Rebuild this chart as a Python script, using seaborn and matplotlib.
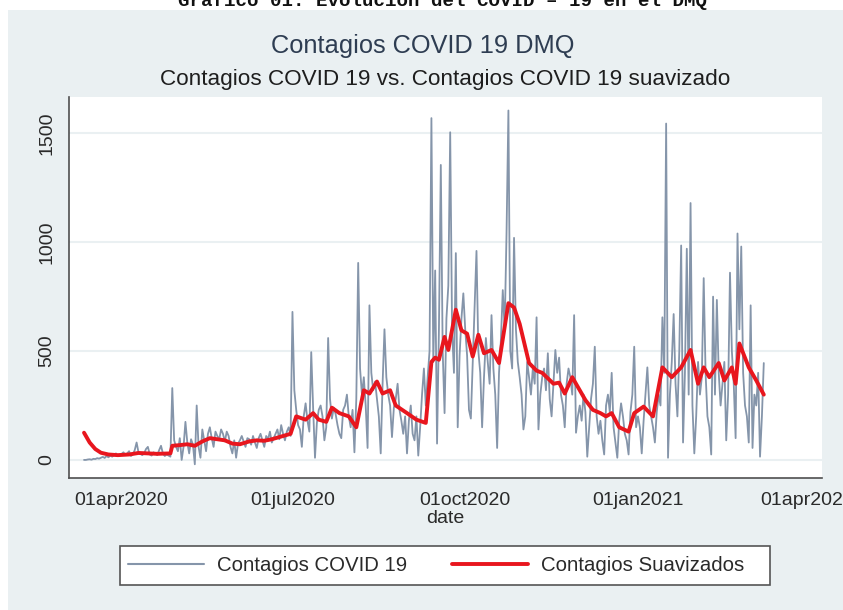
"""
Contagios COVID 19 DMQ: daily cases vs. smoothed cases (Stata-like look).
"""

import pandas as pd
import matplotlib
matplotlib.use("Agg")
import matplotlib.pyplot as plt
from matplotlib.lines import Line2D
from matplotlib.patches import Rectangle
import seaborn as sns


# daily cases, one list per month
mar20 = [0, 0, 2, 3, 1, 5, 4, 8, 6, 10, 14, 9, 18, 12, 20, 15, 22, 30, 18, 25]
apr20 = [28, 35, 22, 30, 40, 18, 25, 45, 80, 35, 28, 22, 30, 50, 60,
         25, 20, 35, 30, 22, 45, 65, 30, 18, 25, 20, 15, 330, 90, 60]
may20 = [40, 100, 0, 60, 175, 80, 30, 95, 70, -20, 250, 60, 10, 140, 90,
         40, 120, 150, 100, 60, 130, 110, 95, 140, 120, 85, 130, 110, 60, 30, 90]
jun20 = [10, 75, 90, 110, 85, 60, 100, 95, 70, 110, 80, 55, 100, 120, 90,
         60, 110, 95, 130, 80, 100, 120, 140, 95, 160, 120, 90, 130, 150, 110]
jul20 = [680, 320, 230, 160, 140, 60, 200, 260, 180, 130, 495, 240, 10, 170, 230,
         250, 200, 90, 150, 560, 280, 190, 240, 210, 160, 120, 100, 230, 250, 300, 200]
aug20 = [150, 230, 35, 280, 905, 420, 300, 380, 250, 55, 710, 400, 320, 360, 280,
         200, 30, 350, 600, 380, 300, 250, 105, 240, 280, 350, 230, 180, 120, 200, 30]
sep20 = [180, 250, 120, 90, 200, 20, 150, 300, 420, 250, 380, 500, 1570, 450, 870,
         75, 600, 1355, 500, 215, 650, 800, 1505, 600, 400, 950, 150, 480, 650, 765]
oct20 = [600, 480, 230, 190, 450, 700, 960, 500, 400, 150, 380, 560, 450, 350, 665,
         420, 300, 55, 400, 550, 780, 600, 1040, 1605, 500, 420, 1020, 600, 450, 380, 300]
nov20 = [140, 200, 450, 380, 300, 420, 350, 655, 140, 300, 380, 420, 320, 490, 280,
         200, 350, 505, 400, 470, 300, 250, 150, 350, 420, 380, 300, 665, 125, 200]
dec20 = [250, 180, 300, 220, 15, 150, 280, 350, 520, 200, 120, 180, 90, 25, 250,
         300, 220, 400, 150, 80, 10, 180, 260, 200, 120, 90, 25, 220, 300, 520, 150]
jan21 = [200, 150, 30, 180, 300, 425, 250, 200, 150, 80, 220, 300, 250, 655, 400,
         1545, 10, 300, 450, 670, 350, 200, 500, 985, 80, 400, 970, 300, 1180, 250, 30]
feb21 = [200, 450, 300, 380, 835, 400, 200, 150, 25, 750, 300, 735, 400, 250,
         350, 450, 90, 300, 860, 500, 350, 100, 1040, 600, 980, 400, 250, 200]
mar21 = [80, 710, 55, 300, 250, 400, 15, 200, 445]
first_day = "2020-03-12"

# smoothed series, read at its turning points
smooth_dates = [
    "2020-03-12", "2020-03-15", "2020-03-18", "2020-03-21", "2020-03-25", "2020-03-30",
    "2020-04-05", "2020-04-10", "2020-04-15", "2020-04-20", "2020-04-27", "2020-04-28",
    "2020-05-02", "2020-05-06", "2020-05-10", "2020-05-14", "2020-05-18", "2020-05-22",
    "2020-05-26", "2020-05-30", "2020-06-03", "2020-06-08", "2020-06-12", "2020-06-16",
    "2020-06-20", "2020-06-24", "2020-06-30", "2020-07-03", "2020-07-08", "2020-07-12",
    "2020-07-15", "2020-07-19", "2020-07-22", "2020-07-26", "2020-07-31", "2020-08-04",
    "2020-08-08", "2020-08-11", "2020-08-15", "2020-08-18", "2020-08-22", "2020-08-25",
    "2020-08-31", "2020-09-05", "2020-09-10", "2020-09-13", "2020-09-15", "2020-09-17",
    "2020-09-20", "2020-09-22", "2020-09-26", "2020-09-29", "2020-10-02", "2020-10-05",
    "2020-10-08", "2020-10-11", "2020-10-15", "2020-10-19", "2020-10-24", "2020-10-27",
    "2020-10-30", "2020-11-04", "2020-11-08", "2020-11-11", "2020-11-17", "2020-11-20",
    "2020-11-23", "2020-11-27", "2020-12-04", "2020-12-08", "2020-12-12", "2020-12-15",
    "2020-12-18", "2020-12-22", "2020-12-27", "2020-12-30", "2021-01-04", "2021-01-09",
    "2021-01-14", "2021-01-19", "2021-01-24", "2021-01-29", "2021-02-02", "2021-02-05",
    "2021-02-08", "2021-02-13", "2021-02-16", "2021-02-20", "2021-02-22", "2021-02-24",
    "2021-03-01", "2021-03-05", "2021-03-09",
]
smooth_values = [
    125, 80, 50, 33, 25, 22,
    25, 32, 30, 28, 30, 65,
    68, 72, 65, 85, 100, 95,
    90, 75, 72, 85, 90, 88,
    95, 105, 120, 200, 185, 215,
    185, 175, 240, 215, 200, 150,
    320, 305, 360, 305, 320, 250,
    215, 185, 170, 450, 470, 460,
    565, 505, 690, 595, 580, 475,
    575, 490, 505, 445, 720, 700,
    625, 445, 410, 400, 350, 355,
    305, 380, 275, 230, 215, 200,
    215, 150, 130, 215, 245, 200,
    425, 380, 425, 505, 350, 425,
    380, 445, 365, 425, 350, 535,
    425, 365, 300,
]

y_ticks = [0, 500, 1000, 1500]
x_ticks = ["2020-04-01", "2020-07-01", "2020-10-01", "2021-01-01", "2021-04-01"]
x_tick_labels = ["01apr2020", "01jul2020", "01oct2020", "01jan2021", "01apr2021"]

W, H = 843, 610
PANEL = "#eaf0f2"
RAW_COLOR = "#8595aa"
SMOOTH_COLOR = "#e8161e"
AXIS_COLOR = "#4f4f4f"


def build_frames():
    raw = (mar20 + apr20 + may20 + jun20 + jul20 + aug20 + sep20
           + oct20 + nov20 + dec20 + jan21 + feb21 + mar21)
    raw_df = pd.DataFrame({
        "date": pd.date_range(first_day, periods=len(raw), freq="D"),
        "cases": raw,
    })
    smooth_df = pd.DataFrame({
        "date": pd.to_datetime(smooth_dates),
        "cases": smooth_values,
    })
    return raw_df, smooth_df


def main():
    sns.set_theme(style="white")
    plt.rcParams["font.family"] = ["Liberation Sans", "DejaVu Sans"]

    raw_df, smooth_df = build_frames()

    fig = plt.figure(figsize=(W / 100, H / 100), dpi=100)
    fig.patch.set_facecolor("white")
    # graph region (light bluish gray, like Stata s2color)
    fig.patches.append(Rectangle((8 / W, 0), 1, 1 - 10 / H, transform=fig.transFigure,
                                 facecolor=PANEL, edgecolor="none", zorder=-5))
    # legend box
    fig.patches.append(Rectangle((120 / W, (H - 585) / H), 650 / W, 39 / H,
                                 transform=fig.transFigure, facecolor="white",
                                 edgecolor="#555555", linewidth=1.2, zorder=-4))

    ax = fig.add_axes([69 / W, (H - 478) / H, (822 - 69) / W, (478 - 97) / H])
    ax.set_facecolor("white")

    sns.lineplot(data=raw_df, x="date", y="cases", ax=ax, color=RAW_COLOR,
                 linewidth=1.3, zorder=3)
    sns.lineplot(data=smooth_df, x="date", y="cases", ax=ax, color=SMOOTH_COLOR,
                 linewidth=2.8, zorder=4)

    ax.set_xlim(pd.Timestamp("2020-03-04"), pd.Timestamp("2021-04-09"))
    ax.set_ylim(-83, 1667)

    for v in y_ticks:
        ax.axhline(v, color=PANEL, linewidth=1.5, zorder=1)

    ax.set_yticks(y_ticks)
    ax.set_yticklabels([str(v) for v in y_ticks], rotation=90, va="center")
    ax.set_xticks(pd.to_datetime(x_ticks))
    ax.set_xticklabels(x_tick_labels)
    ax.tick_params(axis="both", length=5, width=1, color=AXIS_COLOR,
                   labelsize=14, labelcolor="#2a2a2a", pad=5)

    for side in ["top", "right"]:
        ax.spines[side].set_visible(False)
    for side in ["left", "bottom"]:
        ax.spines[side].set_color(AXIS_COLOR)
        ax.spines[side].set_linewidth(1.2)

    ax.set_ylabel("")
    ax.set_xlabel("date", fontsize=14, color="#2a2a2a", labelpad=1)

    # titles
    fig.text(423 / W, 1 - 46 / H, "Contagios COVID 19 DMQ", ha="center", va="center",
             fontsize=18.3, color="#2e3d52")
    fig.text(445 / W, 1 - 80 / H, "Contagios COVID 19 vs. Contagios COVID 19 suavizado",
             ha="center", va="center", fontsize=16.2, color="#1e1e1e")
    # document caption, cut by the top edge of the picture
    fig.text(443 / W, 1 - 6 / H, "Gráfico 01: Evolución del COVID – 19 en el DMQ",
             ha="center", va="baseline", fontsize=13.8, weight="bold",
             family=["Liberation Mono", "DejaVu Sans Mono"], color="#111111")

    handles = [Line2D([], [], color=RAW_COLOR, linewidth=1.5),
               Line2D([], [], color=SMOOTH_COLOR, linewidth=2.8)]
    leg = fig.legend(handles, ["Contagios COVID 19", "Contagios Suavizados"],
                     loc="center left", ncol=2,
                     bbox_to_anchor=(120 / W, (H - 565.5) / H),
                     fontsize=14.7, frameon=False, borderpad=0.4,
                     handlelength=3.7, handletextpad=0.65, columnspacing=2.2,
                     borderaxespad=0)
    for t in leg.get_texts():
        t.set_color("#2a2a2a")

    fig.savefig("out.png", dpi=100, facecolor=fig.get_facecolor())


if __name__ == "__main__":
    main()
